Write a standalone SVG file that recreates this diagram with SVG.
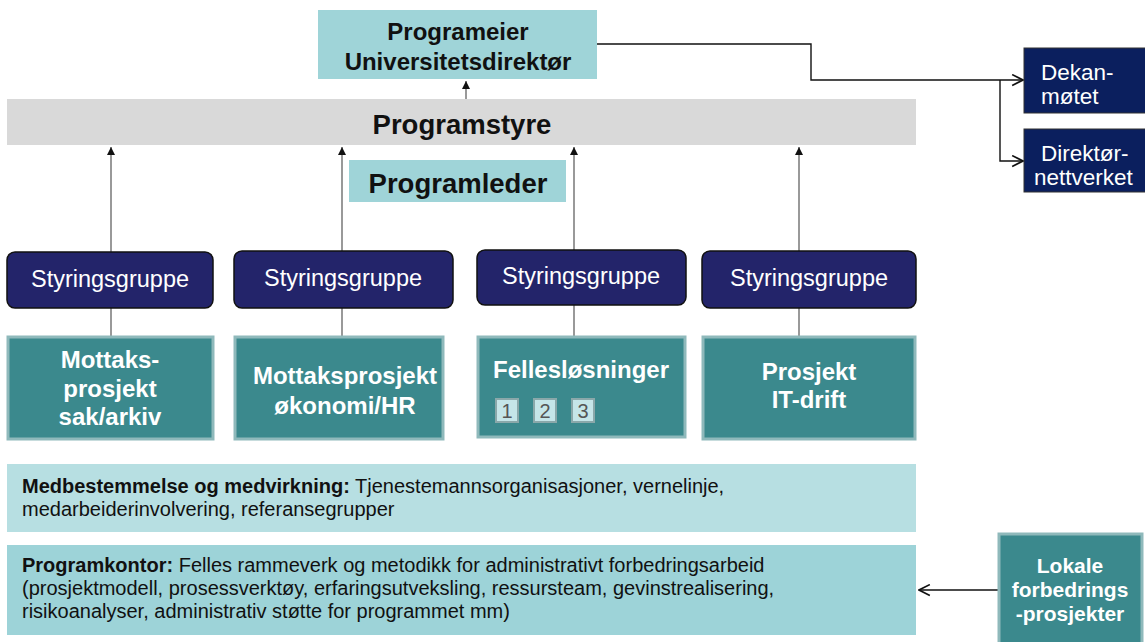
<svg xmlns="http://www.w3.org/2000/svg" width="1145" height="642" viewBox="0 0 1145 642">
<defs>
<style>
text{font-family:"Liberation Sans",Arial,sans-serif}
.lt{fill:#9fd4d8}
.grey{fill:#d9d9d9}
.sg{fill:#23246a;stroke:#111;stroke-width:1.5}
.pj{fill:#3b898d;stroke:#8fb9bb;stroke-width:3}
.nv{fill:#0b1f5e;stroke:#333;stroke-width:1}
.bk{fill:#111;font-weight:bold;text-anchor:middle}
.wb{fill:#fff;font-weight:bold;text-anchor:middle;font-size:24px}
.wl{fill:#fff;font-weight:bold;text-anchor:middle;font-size:21px}
.wr{fill:#fff;text-anchor:middle;font-size:23.5px}
.body{fill:#111;font-size:20px}
.ln{stroke:#555;stroke-width:1.2;fill:none}
.cn{stroke:#111;stroke-width:1.4;fill:none}
.sq{fill:#c5e5e8;stroke:#8aa8aa;stroke-width:2}
.num{fill:#555;font-size:20px;text-anchor:middle}
.dk{fill:#fff;font-size:22.5px}
</style>
<marker id="tri" viewBox="0 0 10 10" refX="10" refY="5" markerWidth="8" markerHeight="8" markerUnits="userSpaceOnUse" orient="auto"><path d="M0,0 L10,5 L0,10 z" fill="#111"/></marker>
<marker id="open" viewBox="0 0 12 12" refX="11" refY="6" markerWidth="13" markerHeight="13" markerUnits="userSpaceOnUse" orient="auto"><path d="M1,1 L11,6 L1,11" fill="none" stroke="#111" stroke-width="1.5"/></marker>
</defs>
<rect width="1145" height="642" fill="#fff"/>

<g id="connectors">
<line class="ln" x1="466" y1="99" x2="466" y2="81" marker-end="url(#tri)"/>
<line class="ln" x1="111" y1="336" x2="111" y2="147" marker-end="url(#tri)"/>
<line class="ln" x1="342" y1="336" x2="342" y2="147" marker-end="url(#tri)"/>
<line class="ln" x1="574" y1="336" x2="574" y2="147" marker-end="url(#tri)"/>
<line class="ln" x1="799" y1="336" x2="799" y2="147" marker-end="url(#tri)"/>
<polyline class="cn" points="597,44 811,44 811,80 1023,80" marker-end="url(#open)"/>
<polyline class="cn" points="1000,80 1000,161 1023,161" marker-end="url(#open)"/>
<line class="cn" x1="998" y1="590" x2="919" y2="590" marker-end="url(#open)"/>
</g>

<g id="programeier">
<rect class="lt" x="318" y="10" width="279" height="69"/>
<text class="bk" x="458" y="40" font-size="24">Programeier</text>
<text class="bk" x="458" y="70" font-size="24">Universitetsdirektør</text>
</g>

<g id="programstyre">
<rect class="grey" x="7" y="99" width="909" height="46"/>
<text class="bk" x="462" y="134" font-size="27.5">Programstyre</text>
</g>

<g id="programleder">
<rect class="lt" x="349" y="160" width="217" height="42"/>
<text class="bk" x="458" y="193" font-size="27.5">Programleder</text>
</g>

<g id="styring1"><rect class="sg" x="7" y="252" width="206" height="56" rx="8"/><text class="wr" x="110" y="287">Styringsgruppe</text></g>
<g id="styring2"><rect class="sg" x="234" y="251" width="219" height="57" rx="8"/><text class="wr" x="343" y="286">Styringsgruppe</text></g>
<g id="styring3"><rect class="sg" x="477" y="250" width="209" height="55" rx="8"/><text class="wr" x="581" y="284">Styringsgruppe</text></g>
<g id="styring4"><rect class="sg" x="702" y="251" width="214" height="57" rx="8"/><text class="wr" x="809" y="286">Styringsgruppe</text></g>

<g id="prosjekt1"><rect class="pj" x="8" y="337" width="205" height="102"/>
<text class="wb" x="110" y="368">Mottaks-</text><text class="wb" x="110" y="397">prosjekt</text><text class="wb" x="110" y="425">sak/arkiv</text></g>
<g id="prosjekt2"><rect class="pj" x="235" y="337" width="208" height="102"/>
<text class="wb" x="345" y="384">Mottaksprosjekt</text><text class="wb" x="345" y="414">økonomi/HR</text></g>
<g id="prosjekt3"><rect class="pj" x="478" y="337" width="207" height="100"/>
<text class="wb" x="581" y="378">Fellesløsninger</text>
<rect class="sq" x="496" y="399" width="22" height="23"/><text class="num" x="507" y="418">1</text>
<rect class="sq" x="534" y="399" width="22" height="23"/><text class="num" x="545" y="418">2</text>
<rect class="sq" x="572" y="399" width="22" height="23"/><text class="num" x="583" y="418">3</text></g>
<g id="prosjekt4"><rect class="pj" x="703" y="337" width="212" height="102"/>
<text class="wb" x="809" y="380">Prosjekt</text><text class="wb" x="809" y="408">IT-drift</text></g>

<g id="medbestemmelse">
<rect x="7" y="464" width="909" height="68" fill="#b7dfe2"/>
<text class="body" x="22" y="493"><tspan font-weight="bold">Medbestemmelse og medvirkning:</tspan> Tjenestemannsorganisasjoner, vernelinje,</text>
<text class="body" x="22" y="516">medarbeiderinvolvering, referansegrupper</text>
</g>

<g id="programkontor">
<rect x="7" y="545" width="909" height="90" fill="#9dd3d8"/>
<text class="body" x="22" y="572"><tspan font-weight="bold">Programkontor:</tspan> Felles rammeverk og metodikk for administrativt forbedringsarbeid</text>
<text class="body" x="22" y="595">(prosjektmodell, prosessverktøy, erfaringsutveksling, ressursteam, gevinstrealisering,</text>
<text class="body" x="22" y="618">risikoanalyser, administrativ støtte for programmet mm)</text>
</g>

<g id="lokale">
<rect class="pj" x="999" y="534" width="143" height="112"/>
<text class="wl" x="1070" y="573">Lokale</text>
<text class="wl" x="1070" y="597">forbedrings</text>
<text class="wl" x="1070" y="621">-prosjekter</text>
</g>

<g id="dekan">
<rect class="nv" x="1024" y="48" width="124" height="65"/>
<text class="dk" x="1041" y="80">Dekan-</text>
<text class="dk" x="1041" y="104">møtet</text>
</g>
<g id="direktor">
<rect class="nv" x="1024" y="129" width="124" height="63"/>
<text class="dk" x="1041" y="161">Direktør-</text>
<text class="dk" x="1034" y="185">nettverket</text>
</g>
</svg>
